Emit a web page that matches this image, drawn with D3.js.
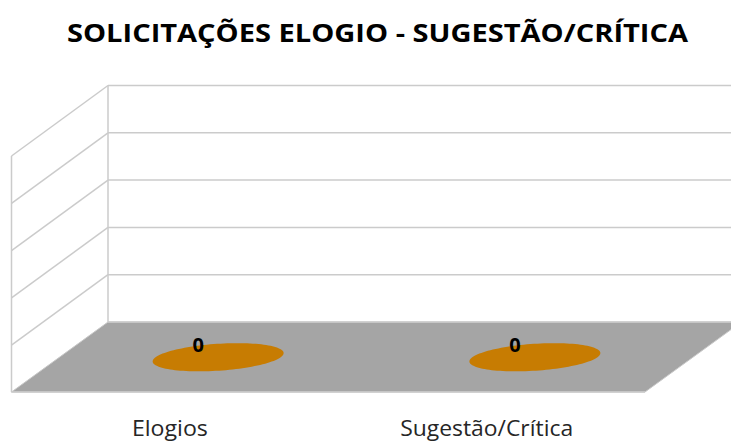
<!DOCTYPE html>
<html lang="pt">
<head>
  <meta charset="UTF-8">
  <title>Solicitações Elogio - Sugestão/Crítica</title>
  <script src="https://d3js.org/d3.v7.min.js"></script>
  <style>
    body { margin: 0; background: #fff; }
    #chart { display: block; }
  </style>
</head>
<body>
  <svg id="chart" width="731" height="441"></svg>

  <script>
    // chart data
    const categories = ["Elogios", "Sugestão/Crítica"];
    const values = [0, 0];
    const yTicks = [0, 0.2, 0.4, 0.6, 0.8, 1];
    const titleText = "SOLICITAÇÕES ELOGIO - SUGESTÃO/CRÍTICA";

    const svg = d3.select("#chart");

    // 3D box: front floor edge and depth vector
    const frontLeft = 11.5, frontRight = 645;
    const floorFront = 392, floorBack = 322;
    const depth = { dx: 96.5, dy: -70.5 };

    const xScale = d3.scaleBand()
      .domain(categories)
      .range([frontLeft, frontRight]);

    // y scale measured on the back wall
    const yScale = d3.scaleLinear()
      .domain([0, 1])
      .range([floorBack, 85.5]);

    const gridColor = "#cbcbcb";

    // floor
    svg.append("polygon")
      .attr("points", [
        [frontLeft, floorFront],
        [frontLeft + depth.dx, floorBack],
        [frontRight + depth.dx, floorBack],
        [frontRight, floorFront]
      ].map(p => p.join(",")).join(" "))
      .attr("fill", "#a5a5a5")
      .attr("stroke", "#c8c8c8")
      .attr("stroke-width", 1);

    // back wall + side wall gridlines
    const grid = svg.append("g")
      .attr("stroke", gridColor)
      .attr("stroke-width", 1.5)
      .attr("fill", "none");

    grid.selectAll(".back")
      .data(yTicks)
      .join("line")
      .attr("x1", frontLeft + depth.dx)
      .attr("x2", frontRight + depth.dx)
      .attr("y1", d => yScale(d))
      .attr("y2", d => yScale(d));

    grid.selectAll(".side")
      .data(yTicks.filter(d => d > 0))
      .join("line")
      .attr("x1", frontLeft + depth.dx)
      .attr("y1", d => yScale(d))
      .attr("x2", frontLeft)
      .attr("y2", d => yScale(d) - depth.dy);

    // wall edges
    grid.append("line")
      .attr("x1", frontLeft + depth.dx).attr("x2", frontLeft + depth.dx)
      .attr("y1", yScale(1)).attr("y2", yScale(0));
    grid.append("line")
      .attr("x1", frontLeft).attr("x2", frontLeft)
      .attr("y1", yScale(1) - depth.dy).attr("y2", floorFront);
    grid.append("line")
      .attr("x1", frontLeft).attr("x2", frontRight)
      .attr("y1", floorFront).attr("y2", floorFront);

    // bar tops (value 0 -> flat disc on the floor)
    const barRx = 62.6, barDepth = 0.2;
    const ellipsePath = d3.line();
    const angles = d3.range(0, 2 * Math.PI + 0.01, Math.PI / 60);

    const bars = svg.append("g");
    categories.forEach((c, i) => {
      const cx = xScale(c) + xScale.bandwidth() / 2 + depth.dx / 2;
      const cy = yScale(values[i]) - depth.dy / 2;
      const pts = angles.map(t => [
        cx + barRx * Math.cos(t) + depth.dx * barDepth * Math.sin(t),
        cy + depth.dy * barDepth * Math.sin(t)
      ]);
      bars.append("path")
        .attr("d", ellipsePath(pts))
        .attr("fill", "#c77c02");

      bars.append("text")
        .attr("x", cx - 20)
        .attr("y", cy - 5)
        .attr("text-anchor", "middle")
        .attr("font-family", "'Open Sans', sans-serif")
        .attr("font-weight", "bold")
        .attr("font-size", 20)
        .attr("fill", "#000")
        .text(values[i]);
    });

    // category labels
    svg.append("g")
      .selectAll("text")
      .data(categories)
      .join("text")
      .attr("x", d => xScale(d) + xScale.bandwidth() / 2)
      .attr("y", 436)
      .attr("text-anchor", "middle")
      .attr("font-family", "'Open Sans', sans-serif")
      .attr("font-size", 21)
      .attr("textLength", d => d.length > 8 ? 173 : 76)
      .attr("lengthAdjust", "spacingAndGlyphs")
      .attr("fill", "#262626")
      .text(d => d);

    // title
    svg.append("text")
      .attr("x", 377.5)
      .attr("y", 42)
      .attr("text-anchor", "middle")
      .attr("font-family", "'Open Sans', sans-serif")
      .attr("font-weight", "bold")
      .attr("font-size", 25)
      .attr("textLength", 621)
      .attr("lengthAdjust", "spacingAndGlyphs")
      .attr("fill", "#000")
      .text(titleText);
  </script>
</body>
</html>
